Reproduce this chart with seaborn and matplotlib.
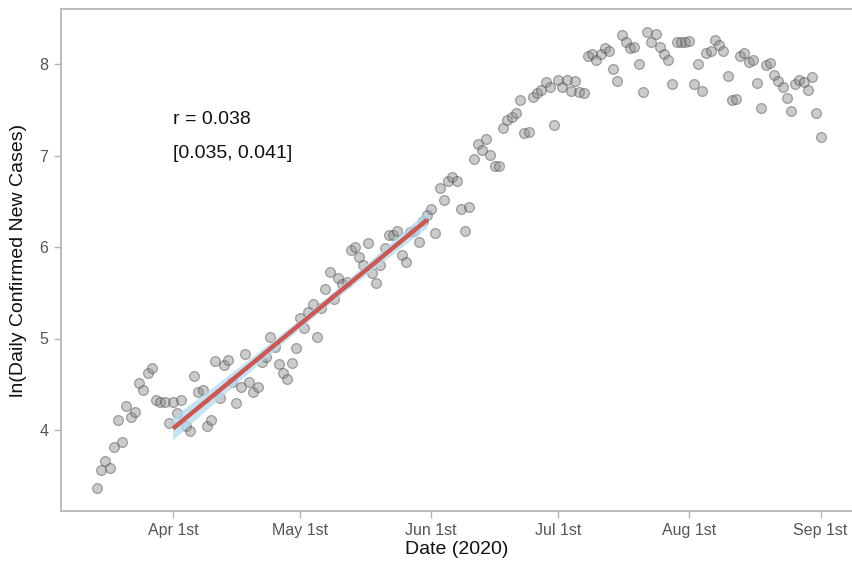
import numpy as np
import pandas as pd
import matplotlib
matplotlib.use("Agg")
import matplotlib.pyplot as plt
import matplotlib.dates as mdates
import seaborn as sns

# Daily log of confirmed new cases, one value per day from 2020-03-14 to 2020-09-01
start_date = "2020-03-14"
ln_mar = [3.37, 3.56, 3.66, 3.59, 3.81, 4.11, 3.87, 4.26, 4.14, 4.20,
          4.51, 4.44, 4.62, 4.68, 4.33, 4.31, 4.31, 4.08]
ln_apr = [4.31, 4.19, 4.33, 4.04, 3.99, 4.59, 4.42, 4.44, 4.04, 4.11,
          4.75, 4.35, 4.71, 4.77, 4.52, 4.29, 4.47, 4.83, 4.53, 4.42,
          4.47, 4.74, 4.80, 5.02, 4.91, 4.72, 4.62, 4.56, 4.73, 4.90]
ln_may = [5.22, 5.11, 5.29, 5.38, 5.02, 5.33, 5.54, 5.73, 5.43, 5.66,
          5.60, 5.62, 5.97, 6.00, 5.89, 5.80, 6.04, 5.72, 5.61, 5.80,
          5.99, 6.13, 6.13, 6.17, 5.91, 5.84, 6.16, 6.18, 6.05, 6.28, 6.35]
ln_jun = [6.41, 6.15, 6.64, 6.51, 6.72, 6.77, 6.72, 6.42, 6.17, 6.44,
          6.96, 7.13, 7.06, 7.18, 7.01, 6.89, 6.89, 7.30, 7.39, 7.42,
          7.46, 7.61, 7.25, 7.26, 7.64, 7.68, 7.72, 7.80, 7.75, 7.33]
ln_jul = [7.82, 7.75, 7.83, 7.71, 7.81, 7.69, 7.68, 8.09, 8.11, 8.04,
          8.11, 8.18, 8.14, 7.95, 7.81, 8.32, 8.24, 8.18, 8.19, 8.00,
          7.69, 8.35, 8.24, 8.33, 8.19, 8.11, 8.04, 7.78, 8.24, 8.24, 8.24]
ln_aug = [8.25, 7.78, 8.00, 7.70, 8.12, 8.14, 8.26, 8.21, 8.14, 7.87,
          7.61, 7.62, 8.09, 8.12, 8.02, 8.04, 7.79, 7.52, 7.99, 8.01,
          7.88, 7.81, 7.75, 7.63, 7.49, 7.78, 7.82, 7.80, 7.72, 7.86, 7.46]
ln_sep = [7.20]

fit_start, fit_end = "2020-04-01", "2020-05-31"
tick_dates = ["2020-04-01", "2020-05-01", "2020-06-01",
              "2020-07-01", "2020-08-01", "2020-09-01"]
tick_labels = ["Apr 1st", "May 1st", "Jun 1st", "Jul 1st", "Aug 1st", "Sep 1st"]
y_ticks = [4, 5, 6, 7, 8]
rate_text = ["r = 0.038", "[0.035, 0.041]"]

ln_cases = ln_mar + ln_apr + ln_may + ln_jun + ln_jul + ln_aug + ln_sep
df = pd.DataFrame({"date": pd.date_range(start_date, periods=len(ln_cases), freq="D"),
                   "ln_cases": ln_cases})
df["day"] = mdates.date2num(df["date"])
fit = df[(df["date"] >= fit_start) & (df["date"] <= fit_end)]

sns.set_theme(style="white")
plt.rcParams["font.family"] = ["Liberation Sans", "DejaVu Sans"]

W, H = 853, 563
fig = plt.figure(figsize=(W / 100, H / 100), dpi=100)
left, right, top, bottom = 61, 853, 9.3, 510.7
ax = fig.add_axes([left / W, 1 - bottom / H, (right - left) / W, (bottom - top) / H])

sns.scatterplot(data=df, x="day", y="ln_cases", ax=ax, s=50, color="#8c8c8c",
                alpha=0.45, edgecolor="#454545", linewidth=0.9, zorder=2)

# confidence band of the early exponential-growth fit
n_before = len(ax.collections)
sns.regplot(data=fit, x="day", y="ln_cases", ax=ax, scatter=False, ci=95,
            seed=0, color="#9fd3ee", line_kws=dict(lw=0))
for coll in ax.collections[n_before:]:
    coll.set_facecolor("#b0dbf0")
    coll.set_edgecolor("none")
    coll.set_alpha(0.75)
    coll.set_zorder(3)

# fitted line
sns.regplot(data=fit, x="day", y="ln_cases", ax=ax, scatter=False, ci=None,
            color="#cf5752", line_kws=dict(lw=3.2, zorder=4,
                                           solid_capstyle="butt"))

apr1 = mdates.date2num(pd.Timestamp("2020-04-01"))
px_per_day = 4.233
ax.set_xlim(apr1 + (left - 173) / px_per_day, apr1 + (right - 173) / px_per_day)
ax.set_ylim(4 + (430 - bottom) / 91.5, 4 + (430 - top) / 91.5)

ax.set_xticks(mdates.date2num(pd.to_datetime(tick_dates)))
ax.set_xticklabels(tick_labels)
ax.set_yticks(y_ticks)
ax.tick_params(axis="both", which="major", length=5, width=1, color="#b5b5b5",
               labelsize=11.5, labelcolor="#555555", direction="out",
               bottom=True, left=True, pad=4)

for side in ["left", "bottom", "top"]:
    ax.spines[side].set_color("#b5b5b5")
    ax.spines[side].set_linewidth(1.3)
ax.spines["right"].set_visible(False)

ax.set_xlabel("Date (2020)", fontsize=14, color="#111111", labelpad=2)
ax.set_ylabel("ln(Daily Confirmed New Cases)", fontsize=14, color="#111111", labelpad=9)

fig.text(173 / W, 1 - 120 / H, rate_text[0], fontsize=14, color="#111111", va="center")
fig.text(173 / W, 1 - 153 / H, rate_text[1], fontsize=14, color="#111111", va="center")

fig.savefig("out.png", dpi=100)
